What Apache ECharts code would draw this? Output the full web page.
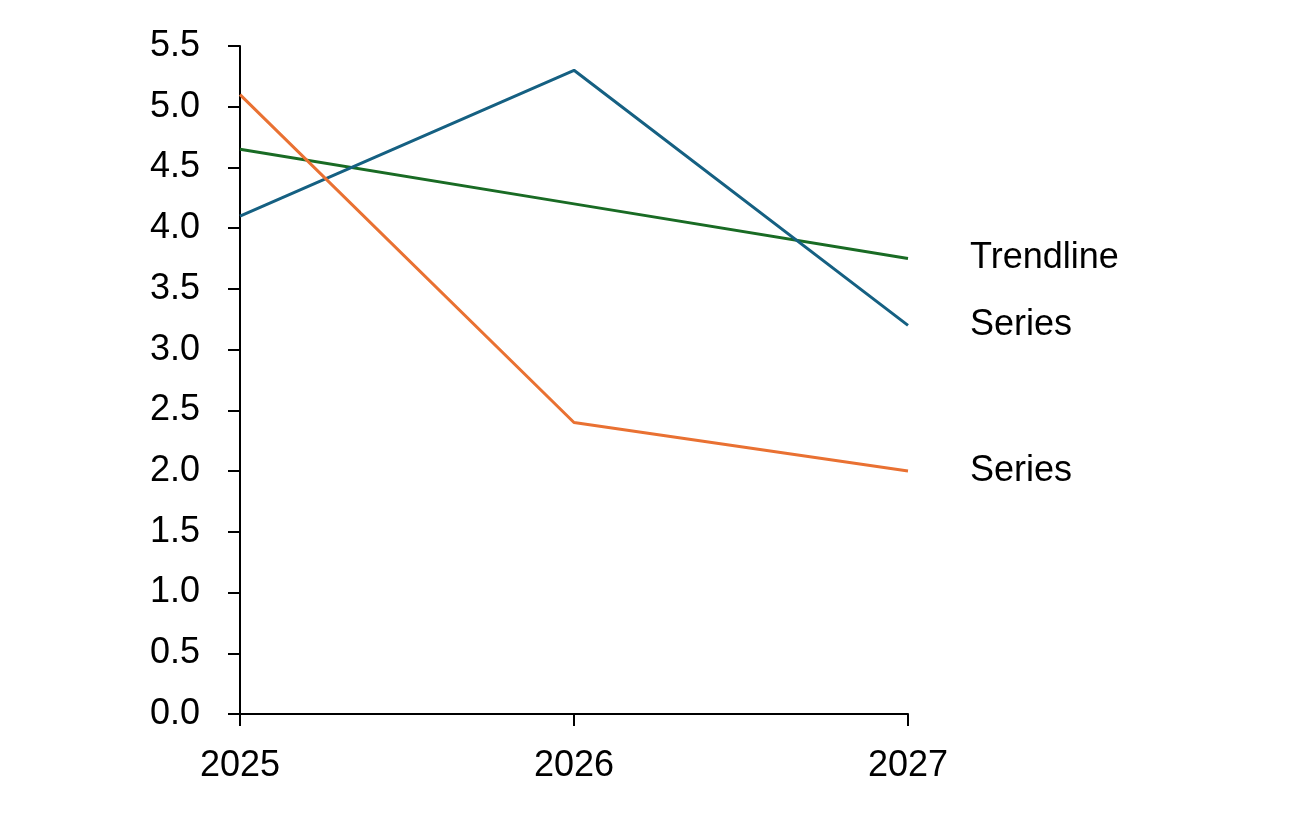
<!DOCTYPE html>
<html>
<head>
<meta charset="utf-8">
<script src="https://cdn.jsdelivr.net/npm/echarts@6/dist/echarts.min.js"></script>
<style>html,body{margin:0;padding:0;background:#fff}#c{width:1306px;height:814px}</style>
</head>
<body>
<div id="c"></div>
<script>
const categories = ['2025', '2026', '2027'];
const seriesBlue = [4.1, 5.3, 3.2];
const seriesOrange = [5.1, 2.4, 2.0];
const trendline = [4.65, 4.2, 3.75];
const yTicks = { min: 0, max: 5.5, interval: 0.5 };

const font = 'Liberation Sans, Arial, sans-serif';
const fs = 36;
const chart = echarts.init(document.getElementById('c'), null, { renderer: 'canvas' });
function line(name, data, color, label) {
  return {
    name: name, type: 'line', data: data, symbol: 'none', silent: true,
    lineStyle: { color: color, width: 3 },
    itemStyle: { color: color },
    endLabel: { show: true, formatter: label, color: '#000', fontSize: fs, fontFamily: font, distance: 62 },
    emphasis: { disabled: true }
  };
}
chart.setOption({
  animation: false,
  grid: { left: 240, right: 398, top: 46, bottom: 100, containLabel: false },
  xAxis: {
    type: 'category', data: categories, boundaryGap: false,
    axisLine: { lineStyle: { color: '#000', width: 2 } },
    axisTick: { show: true, alignWithLabel: true, length: 12, lineStyle: { color: '#000', width: 2 } },
    axisLabel: { color: '#000', fontSize: fs, fontFamily: font, margin: 34 },
    splitLine: { show: false }
  },
  yAxis: {
    type: 'value', min: yTicks.min, max: yTicks.max, interval: yTicks.interval,
    axisLine: { show: true, lineStyle: { color: '#000', width: 2 } },
    axisTick: { show: true, length: 12, lineStyle: { color: '#000', width: 2 } },
    axisLabel: { color: '#000', fontSize: fs, fontFamily: font, margin: 40, formatter: v => v.toFixed(1) },
    splitLine: { show: false }
  },
  series: [
    line('Trendline', trendline, '#196B24', 'Trendline'),
    line('Series', seriesBlue, '#156082', 'Series'),
    line('Series2', seriesOrange, '#E97132', 'Series')
  ]
});
</script>
</body>
</html>
